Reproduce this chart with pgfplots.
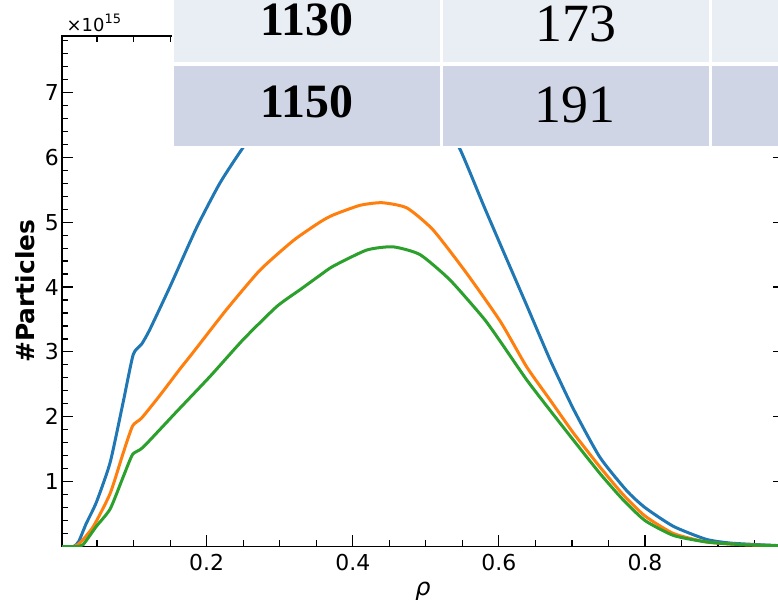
\documentclass[border=0pt]{standalone}
\usepackage{pgfplots}
\pgfplotsset{compat=1.18}
\usepackage{fontspec}
\setmainfont{DejaVu Sans}
\newfontfamily\tabfont{Liberation Serif}
\definecolor{cblue}{HTML}{1F77B4}
\definecolor{corange}{HTML}{FF7F0E}
\definecolor{cgreen}{HTML}{2CA02C}
\definecolor{rowA}{RGB}{233,237,244}
\definecolor{rowB}{RGB}{207,213,229}
\begin{document}
\begin{tikzpicture}
\begin{axis}[
  at={(62bp,56.5bp)}, anchor=south west,
  scale only axis, width=721.8bp, height=510.5bp,
  xmin=0.002, xmax=0.99, ymin=0, ymax=7.87,
  /pgf/number format/assume math mode=true,
  axis line style={line width=1.6bp, black},
  tick style={line width=1.2bp, black},
  major tick length=11bp, minor tick length=6bp,
  tick align=inside,
  xtick={0.2,0.4,0.6,0.8},
  ytick={1,2,3,4,5,6,7},
  minor xtick={0.05,0.1,0.15,0.25,0.3,0.35,0.45,0.5,0.55,0.65,0.7,0.75,0.85,0.9,0.95},
  minor ytick={0.2,0.4,0.6,0.8,1.2,1.4,1.6,1.8,2.2,2.4,2.6,2.8,3.2,3.4,3.6,3.8,4.2,4.4,4.6,4.8,5.2,5.4,5.6,5.8,6.2,6.4,6.6,6.8,7.2,7.4,7.6,7.8},
  xticklabel style={font=\fontsize{22}{26}\selectfont, inner sep=0pt, yshift=-7.5bp},
  yticklabel style={font=\fontsize{22}{26}\selectfont, inner sep=0pt, xshift=-3bp},
  xlabel={\textit{ρ}},
  xlabel style={at={(axis description cs:0.5,-0.0695)}, anchor=north, inner sep=0pt, font=\fontsize{24}{28}\selectfont},
  ylabel={\#Particles},
  ylabel style={at={(axis description cs:-0.051,0.5)}, anchor=center, inner sep=0pt, font=\fontsize{25}{30}\selectfont\bfseries},
  every axis plot/.append style={line width=3bp, line join=round},
]
\addplot[cblue, smooth, tension=0.35] coordinates {
(0.002,0) (0.018,0) (0.025,0.08) (0.035,0.35) (0.049,0.68) (0.068,1.30) (0.086,2.24)
(0.0995,2.96) (0.111,3.12) (0.122,3.34) (0.150,4.01) (0.186,4.91) (0.218,5.60) (0.248,6.12)
(0.28,6.62) (0.32,7.08) (0.36,7.40) (0.40,7.56) (0.44,7.52) (0.48,7.25) (0.515,6.75)
(0.547,6.12) (0.579,5.26) (0.608,4.50) (0.638,3.72) (0.670,2.88) (0.702,2.12) (0.738,1.38)
(0.775,0.86) (0.80,0.60) (0.839,0.31) (0.884,0.11) (0.92,0.05) (0.99,0.01)
};
\addplot[corange, smooth, tension=0.35] coordinates {
(0.002,0) (0.018,0) (0.027,0.06) (0.045,0.31) (0.068,0.82) (0.086,1.45) (0.0987,1.86)
(0.111,1.98) (0.136,2.33) (0.163,2.73) (0.182,3.00) (0.227,3.65) (0.273,4.26) (0.319,4.72)
(0.355,5.00) (0.373,5.11) (0.41,5.26) (0.44,5.30) (0.474,5.22) (0.51,4.88) (0.556,4.21)
(0.602,3.47) (0.638,2.77) (0.670,2.26) (0.702,1.75) (0.738,1.23) (0.77,0.80) (0.80,0.47)
(0.839,0.20) (0.884,0.07) (0.93,0.03) (0.99,0.01)
};
\addplot[cgreen, smooth, tension=0.35] coordinates {
(0.002,0) (0.022,0) (0.031,0.03) (0.049,0.31) (0.068,0.58) (0.086,1.08) (0.0987,1.42)
(0.113,1.53) (0.159,2.08) (0.2045,2.62) (0.25,3.19) (0.296,3.70) (0.328,3.96) (0.355,4.18)
(0.373,4.32) (0.419,4.57) (0.455,4.62) (0.492,4.50) (0.533,4.11) (0.579,3.52) (0.602,3.16)
(0.638,2.57) (0.670,2.10) (0.702,1.64) (0.738,1.13) (0.77,0.72) (0.80,0.40)
(0.839,0.17) (0.884,0.07) (0.93,0.03) (0.99,0.01)
};
\end{axis}
% multiplier
\node[anchor=base west, inner sep=0pt] at (66.5bp,571bp)
  {\fontsize{18}{20}\selectfont ×10\raisebox{8.5bp}{\fontsize{13}{14}\selectfont 15}};
% overlaid table (pasted on top, white grid lines)
\fill[white] (172bp,455bp) rectangle (790bp,610bp);
\fill[rowA] (174bp,541.3bp) rectangle (440bp,610bp);
\fill[rowA] (442.7bp,541.3bp) rectangle (709bp,610bp);
\fill[rowA] (711.7bp,541.3bp) rectangle (790bp,610bp);
\fill[rowB] (174bp,457.3bp) rectangle (440bp,537.3bp);
\fill[rowB] (442.7bp,457.3bp) rectangle (709bp,537.3bp);
\fill[rowB] (711.7bp,457.3bp) rectangle (790bp,537.3bp);
\node[anchor=base, inner sep=0pt] at (307bp,567bp) {\tabfont\bfseries\fontsize{48}{50}\selectfont 1130};
\node[anchor=base, inner sep=0pt] at (307bp,485bp) {\tabfont\bfseries\fontsize{48}{50}\selectfont 1150};
\node[anchor=base, inner sep=0pt] at (576bp,561bp) {\tabfont\fontsize{54}{56}\selectfont 173};
\node[anchor=base, inner sep=0pt] at (575bp,480bp) {\tabfont\fontsize{54}{56}\selectfont 191};
\pgfresetboundingbox
\path[use as bounding box] (0bp,0bp) rectangle (778bp,603bp);
\end{tikzpicture}
\end{document}
